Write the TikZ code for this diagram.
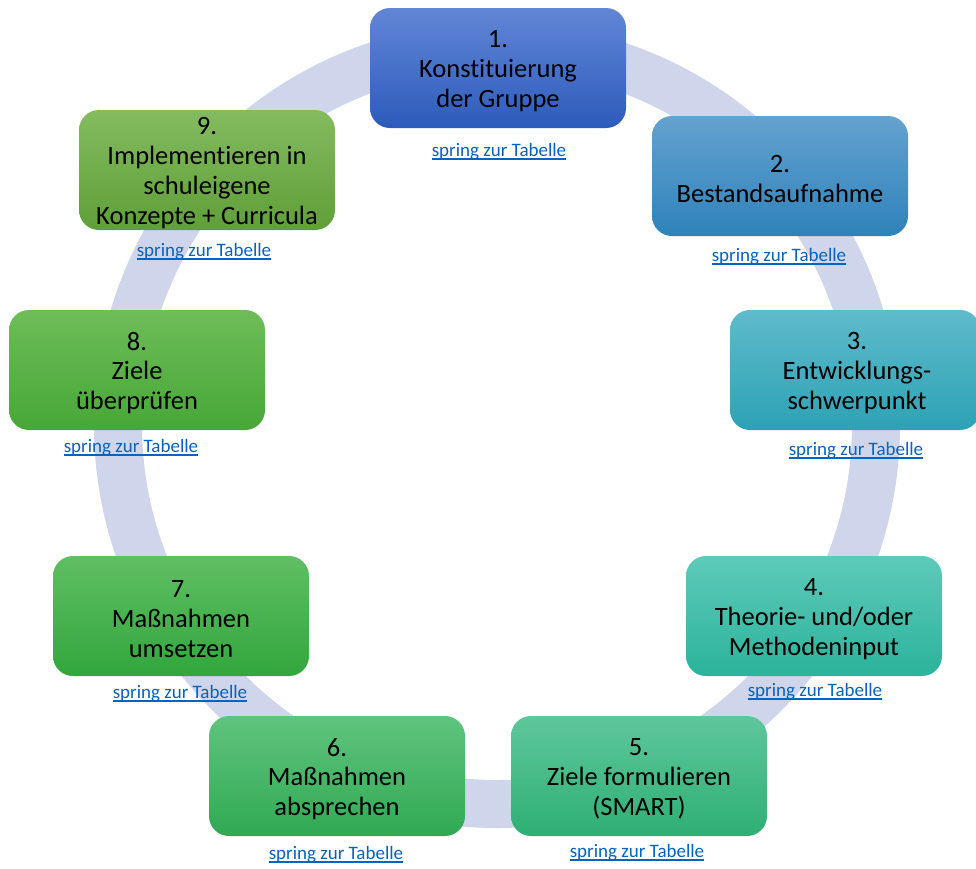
\documentclass[tikz,border=0pt]{standalone}
\usepackage{fontspec}
\setmainfont{Carlito}[Ligatures={NoCommon}]
\definecolor{ringcol}{HTML}{CFD5EA}
\definecolor{linkblue}{HTML}{0563C1}
\definecolor{ca}{HTML}{6186D6}\definecolor{cA}{HTML}{2D5BBB}
\definecolor{cb}{HTML}{64A2D0}\definecolor{cB}{HTML}{2E82BA}
\definecolor{cc}{HTML}{5EBBCB}\definecolor{cC}{HTML}{2DA2B5}
\definecolor{cd}{HTML}{5ECAB9}\definecolor{cD}{HTML}{2BB39C}
\definecolor{ce}{HTML}{5FC79B}\definecolor{cE}{HTML}{2EAF75}
\definecolor{cf}{HTML}{60C47E}\definecolor{cF}{HTML}{30A953}
\definecolor{cg}{HTML}{5FBF63}\definecolor{cG}{HTML}{32A63C}
\definecolor{ch}{HTML}{6EBD58}\definecolor{cH}{HTML}{47A737}
\definecolor{ci}{HTML}{84BB60}\definecolor{cI}{HTML}{5F9F38}
\newcommand\springlink{\setbox0\hbox{spring zur Tabelle}\rlap{\rule[-3.6pt]{\wd0}{1.4pt}}\box0}
\tikzset{
  stepbox/.style={rounded corners=20pt, minimum width=256pt, minimum height=120pt, inner sep=0pt},
  steptext/.style={align=center, inner sep=0pt, text=black, font=\fontsize{26.5}{29.7}\selectfont},
  linknode/.style={anchor=base, inner sep=0pt, text=linkblue, font=\fontsize{19}{22}\selectfont},
  ringstyle/.style={draw=ringcol, line width=48pt},
}
\begin{document}
\begin{tikzpicture}[x=1pt,y=-1pt]
\useasboundingbox (0,0) rectangle (976,868);
\coordinate (rc) at (497,425);
\draw[ringstyle] (rc) circle[radius=379pt];

\node[stepbox, top color=ca, bottom color=cA] (b1) at (498,68) {};
\node[stepbox, top color=cb, bottom color=cB] (b2) at (780,176) {};
\node[stepbox, top color=cc, bottom color=cC, minimum width=250pt] (b3) at (855,370) {};
\node[stepbox, top color=cd, bottom color=cD] (b4) at (814,616) {};
\node[stepbox, top color=ce, bottom color=cE] (b5) at (639,776) {};
\node[stepbox, top color=cf, bottom color=cF] (b6) at (337,776) {};
\node[stepbox, top color=cg, bottom color=cG] (b7) at (181,616) {};
\node[stepbox, top color=ch, bottom color=cH] (b8) at (137,370) {};
\node[stepbox, top color=ci, bottom color=cI] (b9) at (207,170) {};

\node[steptext] (t1) at ([yshift=-3pt]b1.center) {1.\\Konstituierung\\der Gruppe};
\node[steptext] (t2) at ([yshift=-3pt]b2.center) {2.\\Bestandsaufnahme};
\node[steptext] (t3) at ([yshift=-3pt,xshift=2pt]b3.center) {3.\\Entwicklungs-\\schwerpunkt};
\node[steptext] (t4) at ([yshift=-3pt]b4.center) {4.\\Theorie- und/oder\\Methodeninput};
\node[steptext] (t5) at ([yshift=-3pt]b5.center) {5.\\Ziele formulieren\\(SMART)};
\node[steptext] (t6) at ([yshift=-3pt]b6.center) {6.\\Maßnahmen\\absprechen};
\node[steptext] (t7) at ([yshift=-3pt]b7.center) {7.\\Maßnahmen\\umsetzen};
\node[steptext] (t8) at ([yshift=-3pt]b8.center) {8.\\Ziele\\überprüfen};
\node[steptext] (t9) at ([yshift=-3pt]b9.center) {9.\\Implementieren in\\schuleigene\\Konzepte + Curricula};

\node[linknode] (l1) at (499,156) {\springlink};
\node[linknode] (l2) at (779,261) {\springlink};
\node[linknode] (l3) at (856,455) {\springlink};
\node[linknode] (l4) at (815,696) {\springlink};
\node[linknode] (l5) at (637,857) {\springlink};
\node[linknode] (l6) at (336,859) {\springlink};
\node[linknode] (l7) at (180,698) {\springlink};
\node[linknode] (l8) at (131,452) {\springlink};
\node[linknode] (l9) at (204,256) {\springlink};
\end{tikzpicture}
\end{document}
